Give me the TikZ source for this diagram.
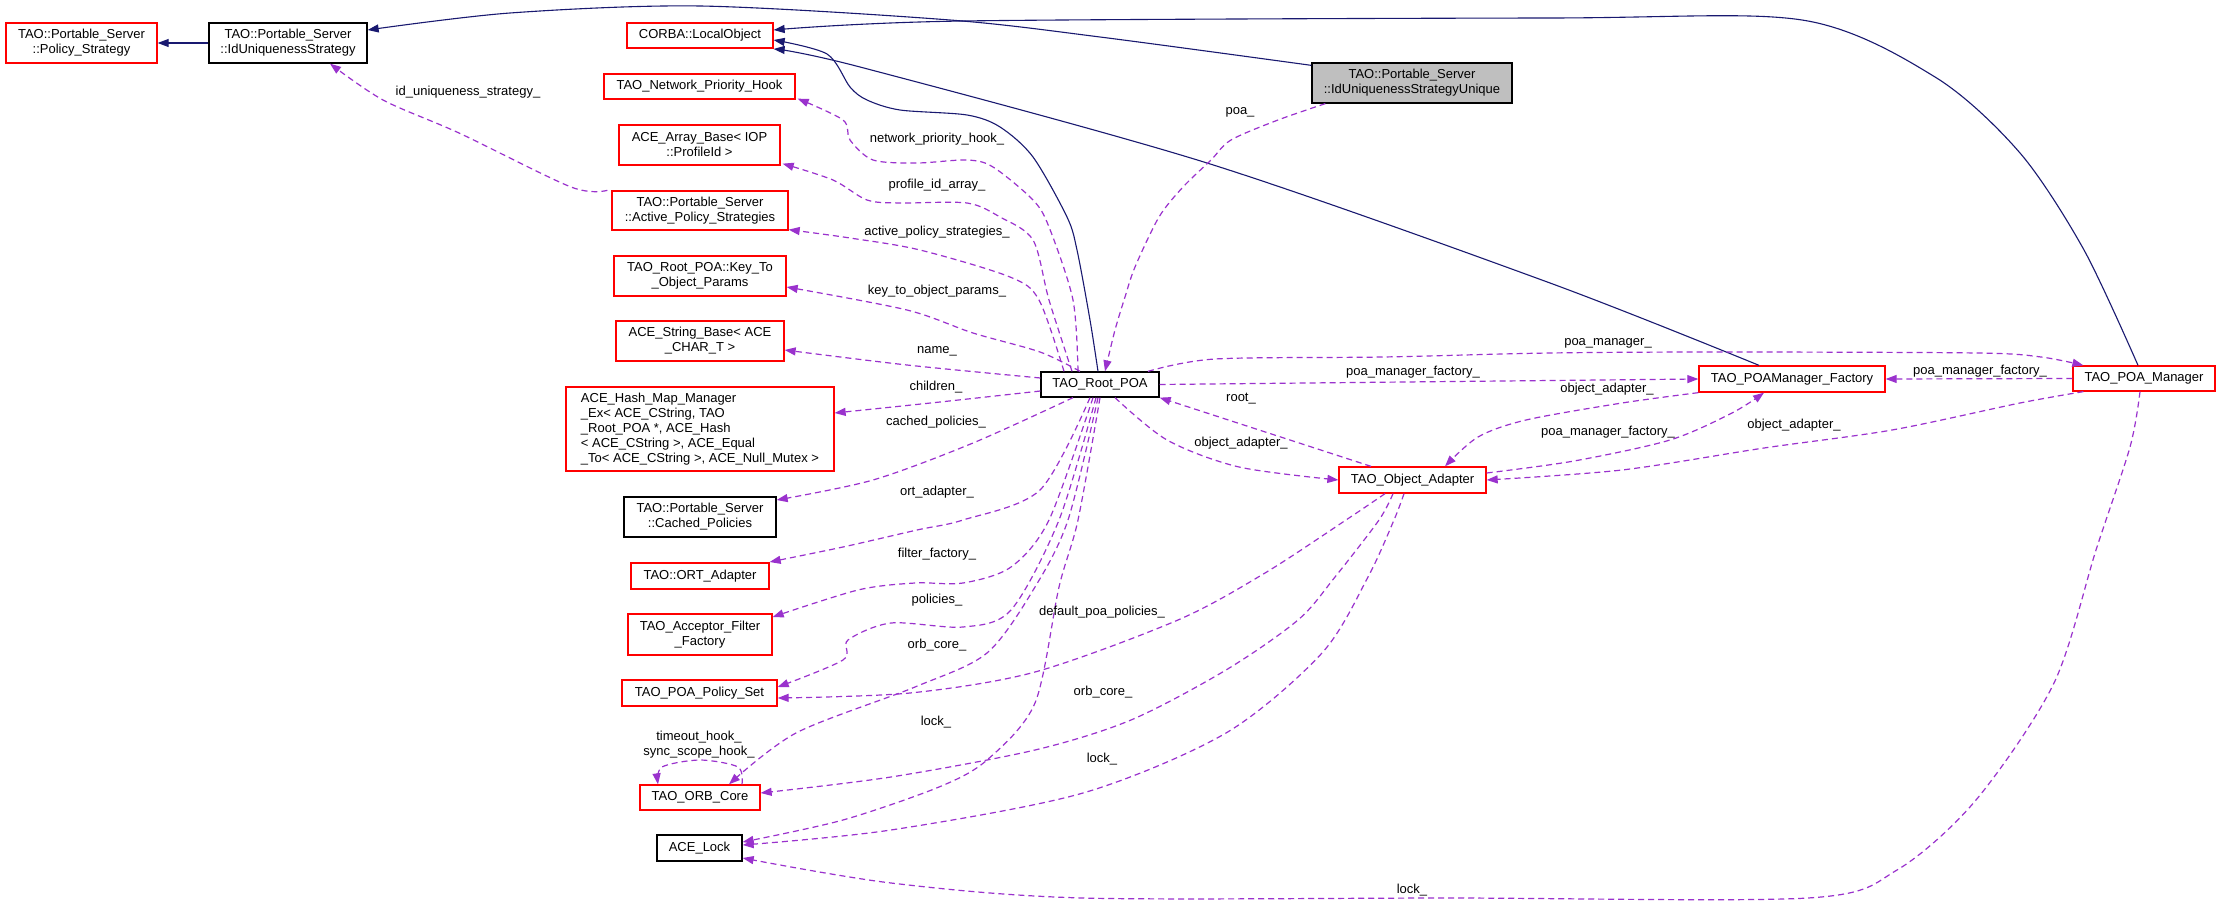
\documentclass[tikz,border=0pt]{standalone}
\usepackage{fontspec}
\setmainfont{Liberation Sans}
\usetikzlibrary{arrows.meta}
\definecolor{edgeblue}{HTML}{191970}
\definecolor{edgepurple}{HTML}{9A32CD}
\definecolor{boxgray}{HTML}{BFBFBF}
\begin{document}
\begin{tikzpicture}[x=1pt,y=-1pt,
  box/.style={draw, line width=1.3pt, inner sep=0pt, align=center, font=\fontsize{13}{15}\selectfont},
  redbox/.style={box, draw=red},
  blackbox/.style={box, draw=black},
  graybox/.style={box, draw=black, fill=boxgray},
  inhedge/.style={draw=edgeblue, line width=1.1pt, -{Triangle[length=11pt,width=8pt]}},
  usedge/.style={draw=edgepurple, line width=1.2pt, dash pattern=on 6pt off 4pt, -{Triangle[length=11pt,width=8pt]}},
  lbl/.style={inner sep=0pt, font=\fontsize{13}{15}\selectfont, align=center}
]
\fill[white] (0,0) rectangle (2219,904);
\useasboundingbox (0,0) rectangle (2219,904);

% nodes
\node[redbox, minimum width=151pt, minimum height=40pt] (ps) at (81.5,43) {TAO::Portable\_Server\\::Policy\_Strategy};
\node[blackbox, minimum width=158pt, minimum height=40pt] (ius) at (288,43) {TAO::Portable\_Server\\::IdUniquenessStrategy};
\node[redbox, minimum width=146pt, minimum height=25pt] (lo) at (700,35.5) {CORBA::LocalObject};
\node[redbox, minimum width=191pt, minimum height=25pt] (nph) at (699.5,86.5) {TAO\_Network\_Priority\_Hook};
\node[redbox, minimum width=161pt, minimum height=40pt] (aab) at (699.5,145) {ACE\_Array\_Base< IOP\\::ProfileId >};
\node[redbox, minimum width=176pt, minimum height=39pt] (aps) at (700,210.5) {TAO::Portable\_Server\\::Active\_Policy\_Strategies};
\node[redbox, minimum width=172pt, minimum height=40pt] (kto) at (700,276) {TAO\_Root\_POA::Key\_To\\\_Object\_Params};
\node[redbox, minimum width=168pt, minimum height=40pt] (asb) at (700,341) {ACE\_String\_Base< ACE\\\_CHAR\_T >};
\node[redbox, minimum width=268pt, minimum height=84pt, align=left] (hmm) at (700,429) {ACE\_Hash\_Map\_Manager\\\_Ex< ACE\_CString, TAO\\\_Root\_POA *, ACE\_Hash\\< ACE\_CString >, ACE\_Equal\\\_To< ACE\_CString >, ACE\_Null\_Mutex >};
\node[blackbox, minimum width=152pt, minimum height=40pt] (cp) at (700,517) {TAO::Portable\_Server\\::Cached\_Policies};
\node[redbox, minimum width=138pt, minimum height=26pt] (ort) at (700,576) {TAO::ORT\_Adapter};
\node[redbox, minimum width=144pt, minimum height=41pt] (aff) at (700,634.5) {TAO\_Acceptor\_Filter\\\_Factory};
\node[redbox, minimum width=155pt, minimum height=26pt] (pps) at (699.5,693) {TAO\_POA\_Policy\_Set};
\node[redbox, minimum width=120pt, minimum height=25pt] (orb) at (700,797.5) {TAO\_ORB\_Core};
\node[blackbox, minimum width=85pt, minimum height=26pt] (lock) at (699.5,848) {ACE\_Lock};
\node[blackbox, minimum width=118pt, minimum height=25pt] (rpoa) at (1100,384.5) {TAO\_Root\_POA};
\node[graybox, minimum width=200pt, minimum height=40pt] (iusu) at (1412,83) {TAO::Portable\_Server\\::IdUniquenessStrategyUnique};
\node[redbox, minimum width=147pt, minimum height=26pt] (oa) at (1412.5,480) {TAO\_Object\_Adapter};
\node[redbox, minimum width=186pt, minimum height=26pt] (pmf) at (1792,379) {TAO\_POAManager\_Factory};
\node[redbox, minimum width=142pt, minimum height=25pt] (pm) at (2144,378.5) {TAO\_POA\_Manager};

% inheritance edges
\draw[inhedge] (ius.west) -- (ps.east);
\draw[inhedge] plot[smooth] coordinates {([yshift=-3pt]iusu.north west) (1100,37) (950,20) (700,6) (510,13) ([yshift=13pt]ius.east)};
\draw[inhedge] plot[smooth] coordinates {([xshift=-6pt]pm.north) (2084,250) (2020,153) (1935,77) (1802,20) (1550,18) (963,21) ([yshift=5.5pt]lo.east)};
\draw[inhedge] plot[smooth] coordinates {([xshift=-2pt]rpoa.north) (1090,320) (1077,250) (1067,217) (1033,157) (1000,127) (967,115) (900,110) (867,100) (850,87) (827,54) ([yshift=-4.5pt]lo.east)};
\draw[inhedge] plot[smooth] coordinates {([xshift=-33pt]pmf.north) (1550,283) (1207,163) (860,67) ([yshift=-13.5pt]lo.east)};

% usage edges
\draw[usedge] plot[smooth] coordinates {([xshift=-4pt]aps.north west) (571,187) (459,133) (383,100) ([xshift=42pt]ius.south)};
\draw[usedge] plot[smooth] coordinates {([xshift=-22pt]rpoa.north) (1073,300) (1049,227) (1033,200) (993,167) (967,160) (917,163) (873,160) (850,140) (843,120) ([xshift=2pt,yshift=1pt]nph.south east)};
\draw[usedge] plot[smooth] coordinates {([xshift=-28pt]rpoa.north) (1049,300) (1033,240) (1000,217) (967,203) (900,203) (867,200) (833,180) ([xshift=2pt,yshift=2pt]aab.south east)};
\draw[usedge] plot[smooth] coordinates {([xshift=-36pt]rpoa.north) (1039,300) (1010,277) (920,250) (850,238) ([yshift=1pt]aps.south east)};
\draw[usedge] plot[smooth] coordinates {([xshift=-20pt]rpoa.north) (1040,352) (973,333) (907,310) ([yshift=-11pt]kto.east)};
\draw[usedge] plot[smooth] coordinates {([yshift=6.5pt]rpoa.west) (907,365) ([yshift=-9pt]asb.east)};
\draw[usedge] plot[smooth] coordinates {([yshift=-6.5pt]rpoa.west) (940,402) ([yshift=16pt]hmm.east)};
\draw[usedge] plot[smooth] coordinates {([xshift=-27pt]rpoa.south) (973,443) (873,480) ([yshift=17pt]cp.east)};
\draw[usedge] plot[smooth] coordinates {([xshift=-10pt]rpoa.south) (1040,490) (963,520) (917,530) (843,547) ([yshift=14pt]ort.east)};
\draw[usedge] plot[smooth] coordinates {([xshift=-7pt]rpoa.south) (1049,520) (1011,567) (963,583) (915,583) (858,590) ([yshift=17.5pt]aff.east)};
\draw[usedge] plot[smooth] coordinates {([xshift=-4pt]rpoa.south) (1059,520) (1011,610) (963,627) (891,623) (848,640) (843,660) ([yshift=6pt]pps.east)};
\draw[usedge] plot[smooth] coordinates {([xshift=-2pt]rpoa.south) (1068,520) (1035,587) (987,653) (915,687) (796,733) ([xshift=29pt]orb.north)};
\draw[usedge] plot[smooth] coordinates {(rpoa.south) (1078,520) (1059,587) (1035,703) (987,760) (939,787) (843,820) ([yshift=6pt]lock.east)};
\draw[usedge] plot[smooth] coordinates {([xshift=14pt]iusu.south west) (1278,120) (1231,140) (1211,160) (1183,187) (1159,217) (1135,267) (1125,297) (1115,330) ([xshift=5pt]rpoa.north)};
\draw[usedge] plot[smooth] coordinates {([xshift=48pt]rpoa.north) (1215,359) (1383,357) (1550,353) (1721,352) (1977,353) (2041,357) ([xshift=11pt]pm.north west)};
\draw[usedge] (rpoa.east) -- (pmf.west);
\draw[usedge] ([xshift=-41.5pt]oa.north) -- (rpoa.south east);
\draw[usedge] plot[smooth] coordinates {([xshift=15pt]rpoa.south) (1167,440) (1239,467) (oa.west)};
\draw[usedge] plot[smooth] coordinates {(pmf.south west) (1622,403) (1526,420) (1478,437) ([xshift=32.5pt]oa.north)};
\draw[usedge] plot[smooth] coordinates {([yshift=7pt]oa.east) (1574,461) (1670,440) (1732,413) ([xshift=-28pt]pmf.south)};
\draw[usedge] plot[smooth] coordinates {([xshift=11pt]pm.south west) (2020,403) (1892,430) (1764,448) (1622,470) (oa.east)};
\draw[usedge] (pm.west) -- (pmf.east);
\draw[usedge] plot[smooth] coordinates {([xshift=-27.5pt]oa.south) (1346,520) (1265,573) (1178,620) (1035,672) (910,693) ([yshift=-5pt]pps.east)};
\draw[usedge] plot[smooth] coordinates {([xshift=-19.5pt]oa.south) (1379,520) (1335,577) (1298,620) (1226,670) (1131,720) (1035,750) (891,777) ([yshift=4.5pt]orb.east)};
\draw[usedge] plot[smooth] coordinates {([xshift=-8.5pt]oa.south) (1394,520) (1368,577) (1322,653) (1226,733) (1083,793) (891,830) ([yshift=3pt]lock.east)};
\draw[usedge] plot[smooth] coordinates {([xshift=-4pt]pm.south) (2130,447) (2096,550) (2054,683) (1976,800) (1897,870) (1808,898) (1450,898) (1083,898) (891,883) ([yshift=-10pt]lock.east)};
\draw[usedge] plot[smooth] coordinates {([xshift=42pt]orb.north) (738,767) (700,760) (662,767) ([xshift=-42pt]orb.north)};

% labels
\node[lbl] (l1) at (468,92) {id\_uniqueness\_strategy\_};
\node[lbl] (l2) at (937,139) {network\_priority\_hook\_};
\node[lbl] (l3) at (937,185) {profile\_id\_array\_};
\node[lbl] (l4) at (937,232) {active\_policy\_strategies\_};
\node[lbl] (l5) at (937,291) {key\_to\_object\_params\_};
\node[lbl] (l6) at (937,351) {name\_};
\node[lbl] (l7) at (936,387) {children\_};
\node[lbl] (l8) at (936,422) {cached\_policies\_};
\node[lbl] (l9) at (937,492) {ort\_adapter\_};
\node[lbl] (l10) at (937,554) {filter\_factory\_};
\node[lbl] (l11) at (937,600) {policies\_};
\node[lbl] (l12) at (937,645) {orb\_core\_};
\node[lbl] (l13) at (936,722) {lock\_};
\node[lbl] (l14) at (1240,112) {poa\_};
\node[lbl] (l15) at (1608,343) {poa\_manager\_};
\node[lbl] (l16) at (1413,372) {poa\_manager\_factory\_};
\node[lbl] (l17) at (1241,399) {root\_};
\node[lbl] (l18) at (1241,443) {object\_adapter\_};
\node[lbl] (l19) at (1607,389) {object\_adapter\_};
\node[lbl] (l20) at (1608,432) {poa\_manager\_factory\_};
\node[lbl] (l21) at (1794,425) {object\_adapter\_};
\node[lbl] (l22) at (1980,371) {poa\_manager\_factory\_};
\node[lbl] (l23) at (1102,612) {default\_poa\_policies\_};
\node[lbl] (l24) at (1103,692) {orb\_core\_};
\node[lbl] (l25) at (1102,759) {lock\_};
\node[lbl] (l26) at (1412,890) {lock\_};
\node[lbl] (l27) at (699,744.5) {timeout\_hook\_\\sync\_scope\_hook\_};
\end{tikzpicture}
\end{document}
